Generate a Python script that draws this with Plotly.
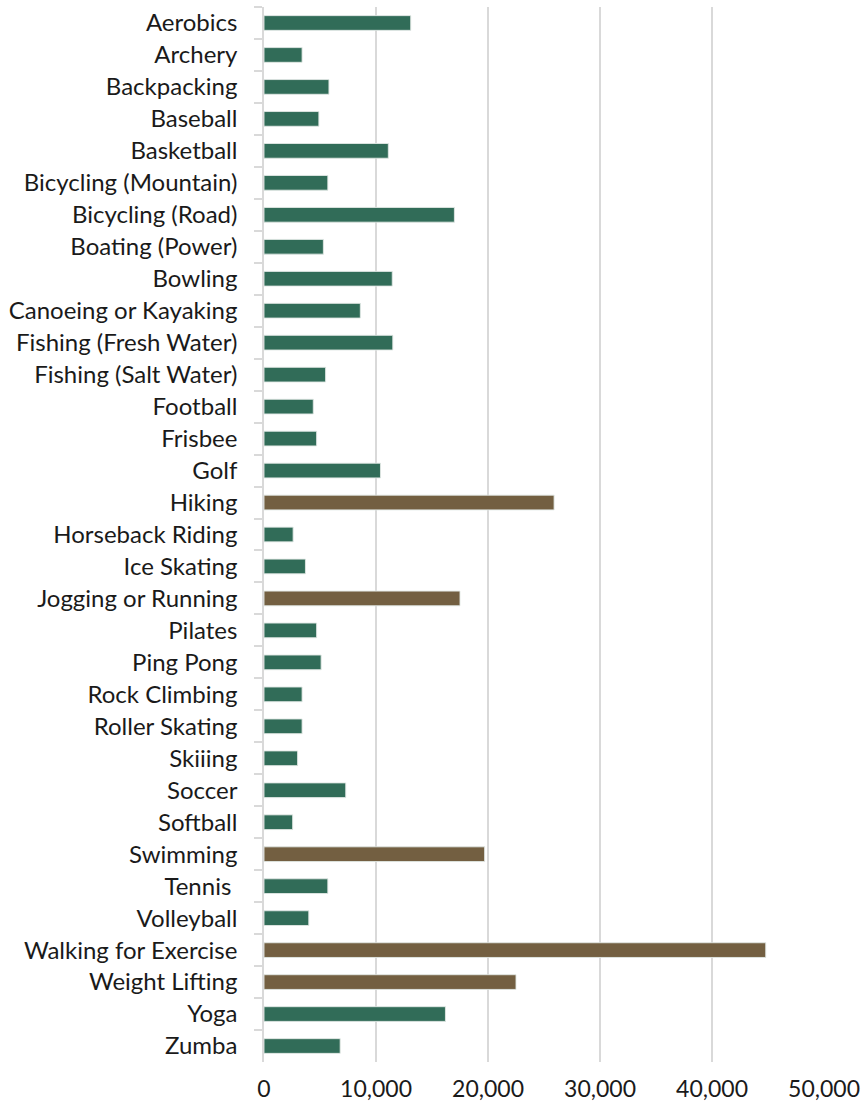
import plotly.graph_objects as go

# Participants (thousands) by activity
activities = [
    "Aerobics", "Archery", "Backpacking", "Baseball", "Basketball",
    "Bicycling (Mountain)", "Bicycling (Road)", "Boating (Power)", "Bowling",
    "Canoeing or Kayaking", "Fishing (Fresh Water)", "Fishing (Salt Water)",
    "Football", "Frisbee", "Golf", "Hiking", "Horseback Riding", "Ice Skating",
    "Jogging or Running", "Pilates", "Ping Pong", "Rock Climbing",
    "Roller Skating", "Skiiing", "Soccer", "Softball", "Swimming", "Tennis ",
    "Volleyball", "Walking for Exercise", "Weight Lifting", "Yoga", "Zumba",
]
participants = [
    13100, 3400, 5800, 4900, 11100,
    5700, 17000, 5300, 11450,
    8600, 11500, 5500,
    4400, 4700, 10400, 25900, 2600, 3700,
    17500, 4700, 5100, 3400,
    3400, 3000, 7300, 2560, 19700, 5700,
    4000, 44800, 22500, 16200, 6800,
]
top_activities = {"Hiking", "Jogging or Running", "Swimming",
                  "Walking for Exercise", "Weight Lifting"}

x_ticks = [0, 10000, 20000, 30000, 40000, 50000]
x_tick_labels = ["0", "10,000", "20,000", "30,000", "40,000", "50,000"]

GREEN = "#316C58"
BROWN = "#735F41"
colors = [BROWN if a in top_activities else GREEN for a in activities]

fig = go.Figure(
    go.Bar(
        x=participants,
        y=activities,
        orientation="h",
        marker=dict(color=colors, line=dict(color="rgba(225,232,228,0.9)", width=1)),
        hoverinfo="x+y",
    )
)

fig.update_layout(
    width=861,
    height=1105,
    margin=dict(l=264, r=37, t=7, b=43),
    paper_bgcolor="white",
    plot_bgcolor="white",
    bargap=0.54,
    showlegend=False,
    font=dict(family="Lato, Open Sans, sans-serif", size=24, color="#1a1a1a"),
)

fig.update_xaxes(
    range=[0, 50000],
    tickvals=x_ticks,
    ticktext=x_tick_labels,
    showgrid=True,
    gridcolor="#D9D9D9",
    gridwidth=1.5,
    zeroline=False,
    showline=False,
    ticks="",
    ticklabelstandoff=11,
    ticklabeloverflow="allow",
    automargin=False,
    tickfont=dict(size=23),
)

fig.update_yaxes(
    type="category",
    autorange="reversed",
    showgrid=False,
    showline=True,
    linecolor="#D9D9D9",
    linewidth=1.5,
    ticks="outside",
    tickson="boundaries",
    ticklen=8,
    tickcolor="#D9D9D9",
    tickwidth=1.5,
    ticklabelstandoff=20,
    automargin=False,
    tickfont=dict(size=24),
)

fig.write_html("out.html")
